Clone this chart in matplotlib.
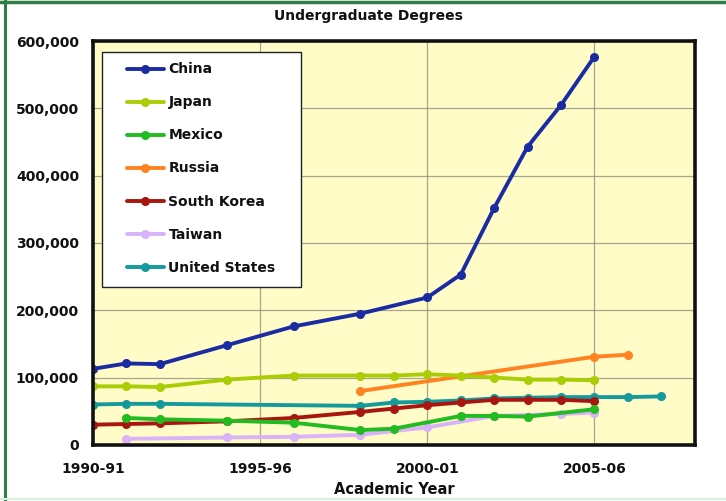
import matplotlib
matplotlib.use("Agg")
import matplotlib.pyplot as plt
from matplotlib.lines import Line2D
from matplotlib.patches import Rectangle

# ---- data (start year of academic year) ----
china_years = [1990, 1991, 1992, 1994, 1996, 1998, 2000, 2001, 2002, 2003, 2004, 2005]
china_vals = [113000, 121000, 120000, 148000, 176000, 195000, 219000, 253000, 352000, 443000, 505000, 577000]

japan_years = [1990, 1991, 1992, 1994, 1996, 1998, 1999, 2000, 2001, 2002, 2003, 2004, 2005]
japan_vals = [87000, 87000, 86000, 97000, 103000, 103000, 103000, 105000, 103000, 100000, 97000, 97000, 96000]

mexico_years = [1991, 1992, 1994, 1996, 1998, 1999, 2001, 2002, 2003, 2005]
mexico_vals = [40000, 38000, 36000, 33000, 22000, 24000, 43000, 43000, 42000, 53000]

russia_years = [1998, 2005, 2006]
russia_vals = [80000, 131000, 134000]

korea_years = [1990, 1991, 1992, 1994, 1996, 1998, 1999, 2000, 2001, 2002, 2003, 2004, 2005]
korea_vals = [30000, 31000, 32000, 35000, 40000, 49000, 54000, 59000, 63000, 67000, 67000, 67000, 65000]

taiwan_years = [1991, 1994, 1996, 1998, 2000, 2002, 2004, 2005]
taiwan_vals = [9000, 11000, 12000, 15000, 26000, 43000, 46000, 48000]

us_years = [1990, 1991, 1992, 1998, 1999, 2000, 2001, 2002, 2003, 2004, 2005, 2006, 2007]
us_vals = [60000, 61000, 61000, 58000, 63000, 64000, 66000, 69000, 70000, 71000, 71000, 71000, 72000]

tick_years = [1990, 1995, 2000, 2005]
tick_labels = ["1990-91", "1995-96", "2000-01", "2005-06"]
y_ticks = [0, 100000, 200000, 300000, 400000, 500000, 600000]

series = [
    ("China", china_years, china_vals, "#1b2ca3"),
    ("Japan", japan_years, japan_vals, "#aacd06"),
    ("Mexico", mexico_years, mexico_vals, "#22bb22"),
    ("Russia", russia_years, russia_vals, "#ff8421"),
    ("South Korea", korea_years, korea_vals, "#a8170f"),
    ("Taiwan", taiwan_years, taiwan_vals, "#d9b2f7"),
    ("United States", us_years, us_vals, "#159a9c"),
]

plt.rcParams['font.family'] = ['DejaVu Sans']

fig = plt.figure(figsize=(7.26, 5.01), dpi=100)
fig.patch.set_facecolor("white")

# slide frame lines
fig.add_artist(Line2D([0.0065, 0.0065], [0.0, 1.0], color="#2e7d46", lw=2.2, transform=fig.transFigure))
fig.add_artist(Line2D([0.0, 1.0], [0.997, 0.997], color="#2e7d46", lw=2.5, transform=fig.transFigure))
fig.add_artist(Line2D([0.0, 1.0], [0.004, 0.004], color="#d8f0dc", lw=1.5, transform=fig.transFigure))

ax = fig.add_axes([0.128, 0.112, 0.829, 0.806])
ax.set_facecolor("#fffcc8")

# order of drawing: bottom first so that China is on top
for name, xs, ys, col in reversed(series):
    ax.plot(xs, ys, color=col, lw=2.8, marker="o", markersize=5.5,
            markeredgecolor=col, markerfacecolor=col, label=name, solid_capstyle="round",
            solid_joinstyle="round")

ax.set_xlim(1990, 2008)
ax.set_ylim(0, 600000)
ax.set_xticks(tick_years)
ax.set_xticklabels(tick_labels)
ax.set_yticks(y_ticks)
ax.set_yticklabels([f"{v:,}" for v in y_ticks])
ax.tick_params(length=0, labelsize=10, pad=10)
ax.tick_params(axis="x", pad=12)
for lab in ax.get_xticklabels() + ax.get_yticklabels():
    lab.set_fontweight("bold")
    lab.set_color("#111111")

ax.grid(True, color="#8a8a7a", lw=0.9, alpha=0.75)
ax.set_axisbelow(True)
for sp in ax.spines.values():
    sp.set_linewidth(2.6)
    sp.set_color("#111111")

ax.set_xlabel("Academic Year", fontsize=10.5, fontweight="bold", labelpad=5, color="#111111")
fig.text(368 / 726, 1 - 16 / 501, "Undergraduate Degrees", ha="center", va="center",
         fontsize=10, fontweight="bold", color="#111111")

# legend frame drawn as a separate box (wider than the default legend)
frame = Rectangle((102 / 726, 1 - 287 / 501), (301 - 102) / 726, (287 - 52) / 501,
                  transform=fig.transFigure, facecolor="white", edgecolor="#222222",
                  lw=1.0, zorder=4.5, clip_on=False)
ax.add_patch(frame)

handles, labels = ax.get_legend_handles_labels()
handles = handles[::-1]
labels = labels[::-1]
leg = ax.legend(handles, labels, loc="upper left", bbox_to_anchor=(117 / 726, 1 - 52 / 501),
                bbox_transform=fig.transFigure, frameon=False, handlelength=2.6,
                handletextpad=0.35, labelspacing=1.37, borderpad=0.75,
                prop={"weight": "bold", "size": 10}, borderaxespad=0)
leg.set_zorder(6)
for t in leg.get_texts():
    t.set_color("#111111")

fig.savefig("out.png", dpi=100)
